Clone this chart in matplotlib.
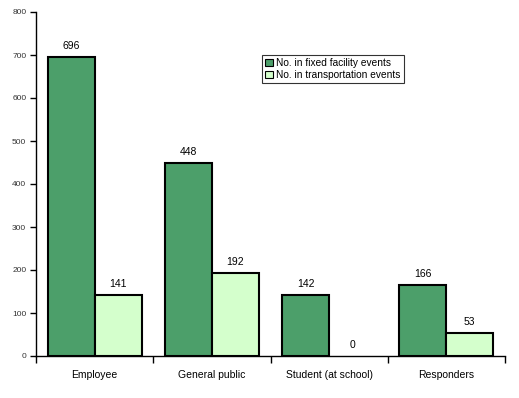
import matplotlib
matplotlib.use("Agg")
import matplotlib.pyplot as plt
import numpy as np

categories = ["Employee", "General public", "Student (at school)", "Responders"]
fixed = [696, 448, 142, 166]
transport = [141, 192, 0, 53]
series_names = ["No. in fixed facility events", "No. in transportation events"]
yticks = [0, 100, 200, 300, 400, 500, 600, 700, 800]

plt.rcParams['font.family'] = ['Liberation Sans', 'DejaVu Sans']

W, H = 519, 398
fig = plt.figure(figsize=(W/100, H/100), dpi=100)
ax = fig.add_axes([36/W, (H-356)/H, (505-36)/W, (356-12)/H])

x = np.arange(len(categories))
bw = 0.4
c1, c2 = "#4c9f6a", "#d4ffcc"
lw1 = [1.5 if v > 0 else 0 for v in fixed]
lw2 = [1.5 if v > 0 else 0 for v in transport]
ax.bar(x + 0.1, fixed, width=bw, align='edge', color=c1, edgecolor='black', linewidth=lw1, label=series_names[0])
ax.bar(x + 0.5, transport, width=bw, align='edge', color=c2, edgecolor='black', linewidth=lw2, label=series_names[1])

for xi, v in zip(x, fixed):
    ax.text(xi + 0.3, v + 14, str(v), ha='center', va='bottom', fontsize=7.5)
for xi, v in zip(x, transport):
    ax.text(xi + 0.7, v + 14, str(v), ha='center', va='bottom', fontsize=7.5)

ax.set_xlim(0, 4)
ax.set_ylim(0, 800)
ax.set_yticks(yticks)
ax.set_yticklabels([str(t) for t in yticks], fontsize=6, color='#333333')
ax.set_xticks([0, 1, 2, 3, 4])
ax.set_xticklabels([])
ax.set_xticks(x + 0.5, minor=True)
ax.set_xticklabels(categories, minor=True, fontsize=7.5)
ax.tick_params(axis='x', which='minor', length=0, pad=10)
ax.tick_params(axis='x', which='major', length=5, width=1, direction='out')
ax.tick_params(axis='y', length=4, width=1, direction='out', pad=3)

for s in ['top', 'right']:
    ax.spines[s].set_visible(False)
for s in ['left', 'bottom']:
    ax.spines[s].set_linewidth(1)

leg = ax.legend(loc='upper left', bbox_to_anchor=((262-36)/(505-36), 1 - (55-12)/(356-12)),
                fontsize=7.3, frameon=True, fancybox=False, edgecolor='black',
                handlelength=0.8, handleheight=0.8, handletextpad=0.3,
                borderpad=0.3, labelspacing=0.2, borderaxespad=0)
leg.get_frame().set_linewidth(0.8)
for h in leg.legend_handles:
    h.set_linewidth(0.8)

fig.savefig("out.png", dpi=100)
